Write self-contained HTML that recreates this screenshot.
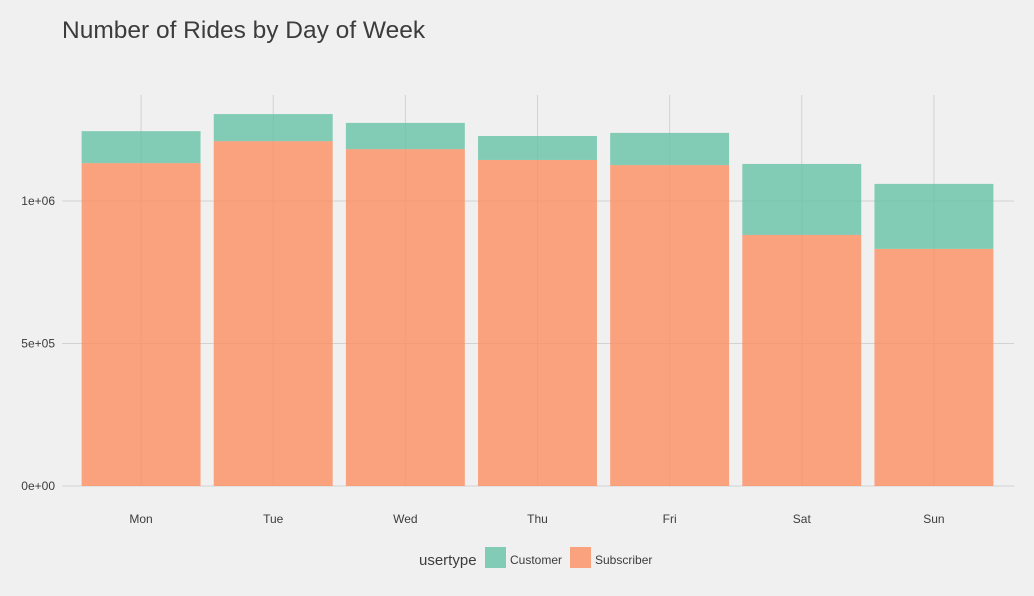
<!DOCTYPE html>
<html><head><meta charset="utf-8"><style>
body{margin:0;background:#f0f0f0;}
svg{display:block;font-family:"Liberation Sans",sans-serif;}
</style></head><body>
<svg id="chart" width="1034" height="596">
<rect width="1034" height="596" fill="#f0f0f0"/>
<text x="62" y="38" font-size="24.5" fill="#3c3c3c">Number of Rides by Day of Week</text>
<g id="grid"></g><g id="bars"></g><g id="axes"></g>
<g>
<text x="419" y="565" font-size="15" fill="#3c3c3c">usertype</text>
<rect x="485" y="547" width="21" height="21" fill="#66c2a5" fill-opacity="0.8"/>
<text x="510" y="564" font-size="12" fill="#3c3c3c">Customer</text>
<rect x="570" y="547" width="21" height="21" fill="#fc8d62" fill-opacity="0.8"/>
<text x="595" y="564" font-size="12" fill="#3c3c3c">Subscriber</text>
</g>
</svg>
<script>
const days=["Mon","Tue","Wed","Thu","Fri","Sat","Sun"];
const subscriber=[1133000,1210000,1182000,1144000,1126000,881000,832000];
const customer=[112000,95000,92000,84000,113000,249000,228000];
const yTicks=[0,500000,1000000];
const yTickLabels=["0e+00","5e+05","1e+06"];
const NS="http://www.w3.org/2000/svg";
const gx0=62,gx1=1014,x0=75,x1=1000,yTop=95,yBase=486,pxPerUnit=285/1e6;
const step=(x1-x0)/days.length;
function xc(i){return x0+step*(i+0.5);}
function y(v){return yBase-v*pxPerUnit;}
function mk(tag,attrs,parent){const e=document.createElementNS(NS,tag);for(const k in attrs)e.setAttribute(k,attrs[k]);document.getElementById(parent).appendChild(e);return e;}
yTicks.forEach((t,i)=>{
 const l=mk("line",{x1:gx0,x2:gx1,y1:y(t),y2:y(t),stroke:"#d2d2d2","stroke-width":1},"grid");
 
 
 const tx=mk("text",{x:gx0-7,y:y(t)+4,"text-anchor":"end","font-size":12,fill:"#3c3c3c"},"axes");
 tx.textContent=yTickLabels[i];
 
 
});
days.forEach((d,i)=>{
 const l=mk("line",{x1:xc(i),x2:xc(i),y1:yTop,y2:yBase,stroke:"#d2d2d2","stroke-width":1},"grid");
 
 
 const w=step*0.9,bx=xc(i)-w/2;
 const s=mk("rect",{x:bx,y:y(subscriber[i]),width:w,height:yBase-y(subscriber[i]),fill:"#fc8d62","fill-opacity":0.8},"bars");
 
 
 const top=subscriber[i]+customer[i];
 const c=mk("rect",{x:bx,y:y(top),width:w,height:y(subscriber[i])-y(top),fill:"#66c2a5","fill-opacity":0.8},"bars");
 
 
 const tx=mk("text",{x:xc(i),y:523,"text-anchor":"middle","font-size":12,fill:"#3c3c3c"},"axes");
 tx.textContent=d;
 
 
});
</script>
</body></html>
